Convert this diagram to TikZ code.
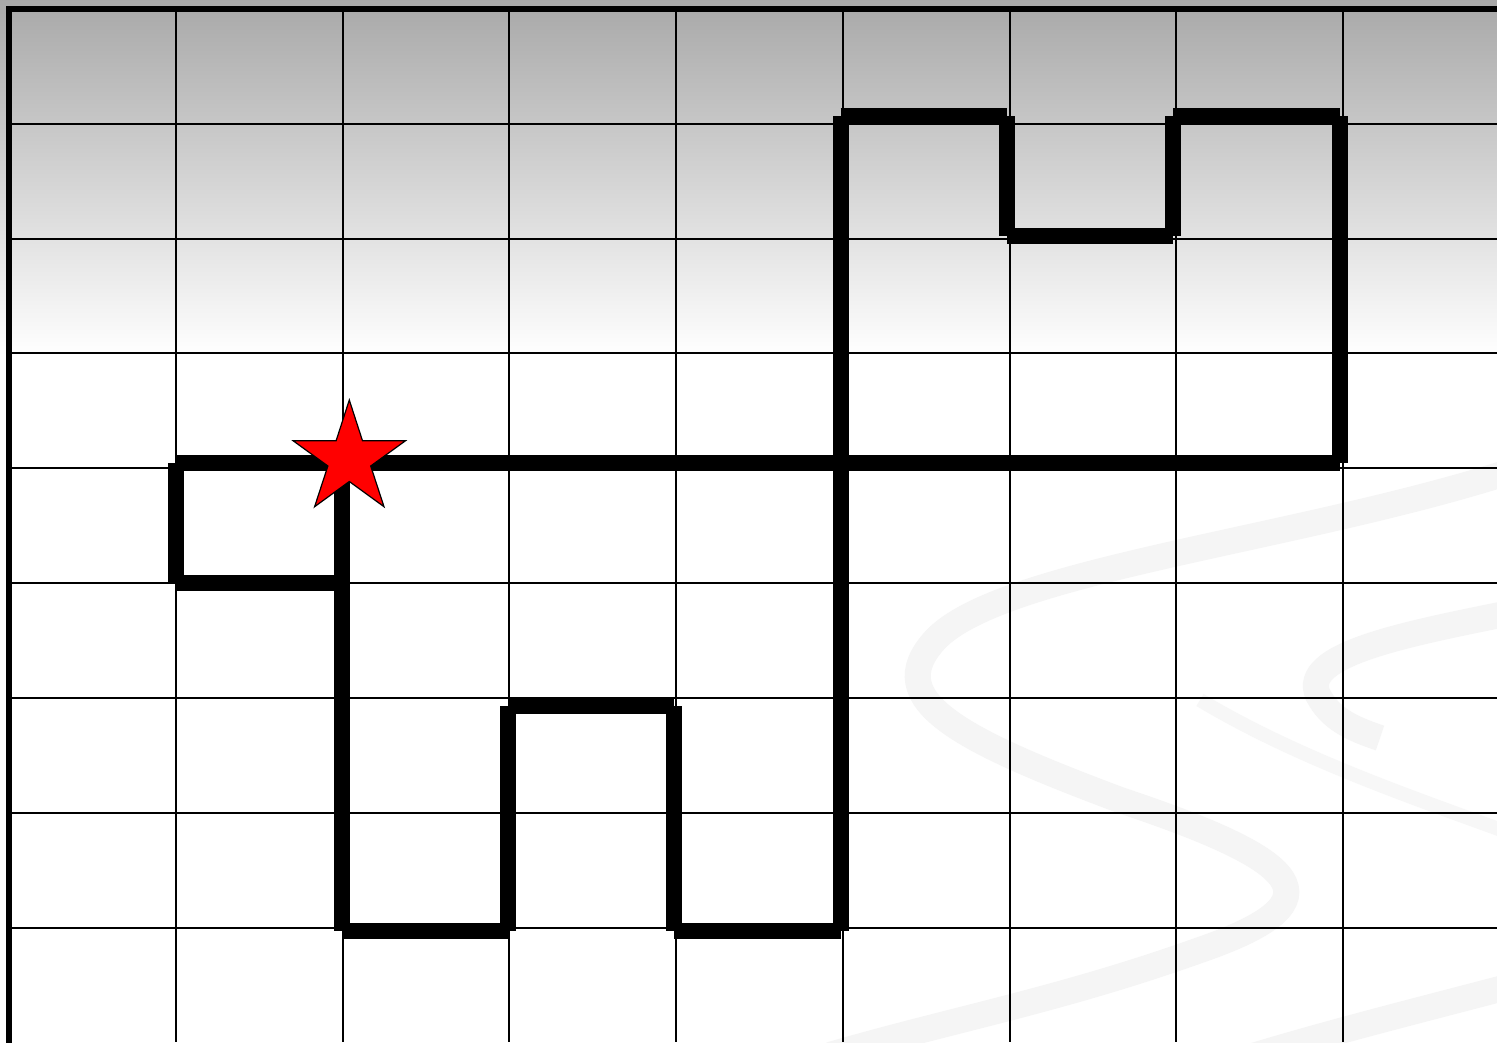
\documentclass[tikz,border=0pt]{standalone}
\begin{document}
\begin{tikzpicture}[x=1pt,y=-1pt,
  gridline/.style={line width=2.4pt, black},
  wall/.style={line width=16pt, black, line cap=butt},
  ribbon/.style={line width=26pt, black!4, line cap=butt},
  thinribbon/.style={line width=14pt, black!3, line cap=butt}]
\useasboundingbox (0,0) rectangle (1497,1042);
\begin{scope}
\clip (0,0) rectangle (1497,1042);
\fill[white] (0,0) rectangle (1497,1042);
\shade[top color=black!34, bottom color=white] (-5,0) rectangle (1502,356);
% faint ribbons
\draw[ribbon] (1515,470) .. controls (1300,540) and (1000,570) .. (935,640)
  .. controls (880,700) and (960,740) .. (1120,800)
  .. controls (1300,860) and (1345,900) .. (1200,950)
  .. controls (1060,1000) and (950,1020) .. (830,1055);
\draw[ribbon] (1515,612) .. controls (1400,635) and (1300,655) .. (1318,695)
  .. controls (1330,718) and (1350,728) .. (1380,738);
\draw[thinribbon] (1200,700) .. controls (1300,760) and (1420,800) .. (1515,835);
\draw[ribbon] (1515,985) .. controls (1420,1010) and (1320,1035) .. (1240,1060);
% grid
\foreach \x in {176,343,509,676,843,1010,1176,1343}
  \draw[gridline] (\x,9) -- (\x,1042);
\foreach \y in {124,239,353,468,583,698,813,928}
  \draw[gridline] (9,\y) -- (1497,\y);
% frame
\draw[line width=6pt] (9,1045) -- (9,9) -- (1500,9);
\end{scope}
% path corners
\coordinate (A) at (176,462.5);
\coordinate (B) at (176,583);
\coordinate (C) at (341.5,583);
\coordinate (S) at (341.5,462.5);
\coordinate (D) at (341.5,931);
\coordinate (E) at (508,931);
\coordinate (F) at (508,706);
\coordinate (G) at (674,706);
\coordinate (H) at (674,931);
\coordinate (I) at (840.7,931);
\coordinate (J) at (840.7,116);
\coordinate (K) at (1007,116);
\coordinate (L) at (1007,235.5);
\coordinate (M) at (1173,235.5);
\coordinate (N) at (1173,116);
\coordinate (O) at (1339.7,116);
\coordinate (P) at (1339.7,462.5);
\draw[wall] (A) -- (P);
\draw[wall] (A) -- (B);
\draw[wall] (B) -- (C);
\draw[wall] (S) -- (D);
\draw[wall] (D) -- (E);
\draw[wall] (E) -- (F);
\draw[wall] (F) -- (G);
\draw[wall] (G) -- (H);
\draw[wall] (H) -- (I);
\draw[wall] (I) -- (J);
\draw[wall] (J) -- (K);
\draw[wall] (K) -- (L);
\draw[wall] (L) -- (M);
\draw[wall] (M) -- (N);
\draw[wall] (N) -- (O);
\draw[wall] (O) -- (P);
% star
\draw[fill=red, line width=1.2pt, line join=miter]
  (349.3,400) -- (362.5,440.8) -- (405.4,440.8) -- (370.7,466) -- (384,506.7)
  -- (349.3,481.5) -- (314.6,506.7) -- (327.9,466) -- (293.2,440.8)
  -- (336.1,440.8) -- cycle;
\end{tikzpicture}
\end{document}
